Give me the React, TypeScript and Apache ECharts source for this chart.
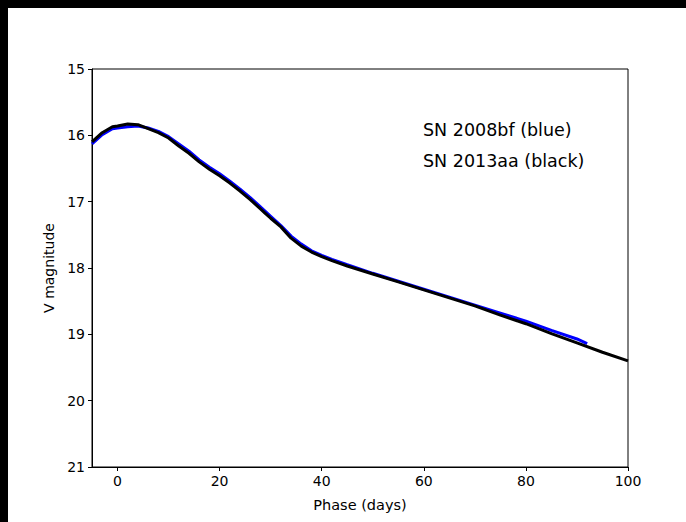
import React, { useEffect, useRef } from "react";
import * as echarts from "echarts";

const phase2013aa = [-5, -3, -1, 0, 2, 4, 6, 8, 10, 12, 14, 16, 18, 20, 22, 24, 26, 28, 30, 32, 34, 36, 38, 40, 42, 45, 50, 55, 60, 65, 70, 75, 80, 85, 90, 95, 100];
const mag2013aa = [16.1, 15.96, 15.87, 15.86, 15.83, 15.84, 15.9, 15.96, 16.04, 16.16, 16.27, 16.4, 16.51, 16.61, 16.72, 16.84, 16.97, 17.11, 17.25, 17.38, 17.55, 17.67, 17.76, 17.83, 17.89, 17.97, 18.09, 18.21, 18.33, 18.45, 18.57, 18.71, 18.84, 18.99, 19.13, 19.27, 19.4];

const phase2008bf = [-5, -3, -1, 0, 2, 4, 6, 8, 10, 12, 14, 16, 18, 20, 22, 24, 26, 28, 30, 32, 34, 36, 38, 40, 42, 45, 50, 55, 60, 65, 70, 75, 80, 85, 90, 92];
const mag2008bf = [16.13, 15.99, 15.9, 15.89, 15.87, 15.86, 15.89, 15.94, 16.02, 16.13, 16.24, 16.37, 16.48, 16.58, 16.69, 16.81, 16.94, 17.08, 17.22, 17.36, 17.52, 17.64, 17.74, 17.81, 17.87, 17.95, 18.08, 18.2, 18.32, 18.44, 18.56, 18.68, 18.8, 18.94, 19.07, 19.14];

const xTicks = [0, 20, 40, 60, 80, 100];
const annotations = ["SN 2008bf (blue)", "SN 2013aa (black)"];

const FONT = "DejaVu Sans";

export default function App() {
  const ref = useRef<HTMLDivElement>(null);
  useEffect(() => {
    document.body.style.background = "#000";
    document.body.style.overflow = "hidden";
    const chart = echarts.init(ref.current!, undefined, { renderer: "svg" });
    const pair = (xs: number[], ys: number[]) => xs.map((x, i) => [x, ys[i]]);
    chart.setOption({
      animation: false,
      backgroundColor: "#fff",
      textStyle: { fontFamily: FONT },
      grid: {
        left: 84,
        right: 58,
        top: 61,
        bottom: 55,
        show: true,
        borderColor: "#000",
        borderWidth: 1,
        backgroundColor: "#fff",
      },
      xAxis: {
        type: "value",
        min: -5,
        max: 100,
        name: "Phase (days)",
        nameLocation: "middle",
        nameGap: 30,
        nameTextStyle: { color: "#000", fontSize: 14.5, fontFamily: FONT },
        axisLine: { onZero: false, lineStyle: { color: "#000", width: 1 } },
        axisTick: { show: true, length: 4, lineStyle: { color: "#000" }, customValues: xTicks },
        axisLabel: { color: "#000", fontSize: 14, fontFamily: FONT, margin: 7, customValues: xTicks },
        splitLine: { show: false },
      },
      yAxis: {
        type: "value",
        min: 15,
        max: 21,
        interval: 1,
        inverse: true,
        name: "V magnitude",
        nameLocation: "middle",
        nameGap: 36,
        nameRotate: 90,
        nameTextStyle: { color: "#000", fontSize: 14, fontFamily: FONT },
        axisLine: { show: true, onZero: false, lineStyle: { color: "#000", width: 1 } },
        axisTick: { show: true, length: 4, lineStyle: { color: "#000" } },
        axisLabel: { color: "#000", fontSize: 14, fontFamily: FONT, margin: 7 },
        splitLine: { show: false },
      },
      series: [
        {
          type: "line",
          name: "SN 2008bf",
          data: pair(phase2008bf, mag2008bf),
          showSymbol: false,
          lineStyle: { color: "#0000ff", width: 3 },
          z: 2,
        },
        {
          type: "line",
          name: "SN 2013aa",
          data: pair(phase2013aa, mag2013aa),
          showSymbol: false,
          lineStyle: { color: "#000", width: 3 },
          z: 3,
        },
      ],
      graphic: annotations.map((t, i) => ({
        type: "text",
        x: 415,
        y: 122 + i * 31,
        style: {
          text: t,
          fill: "#000",
          font: `17.5px "${FONT}"`,
          verticalAlign: "middle",
        },
      })),
    });
    return () => chart.dispose();
  }, []);
  return (
    <div
      ref={ref}
      style={{ position: "fixed", left: 8, top: 8, width: 678, height: 514, background: "#fff" }}
    />
  );
}
